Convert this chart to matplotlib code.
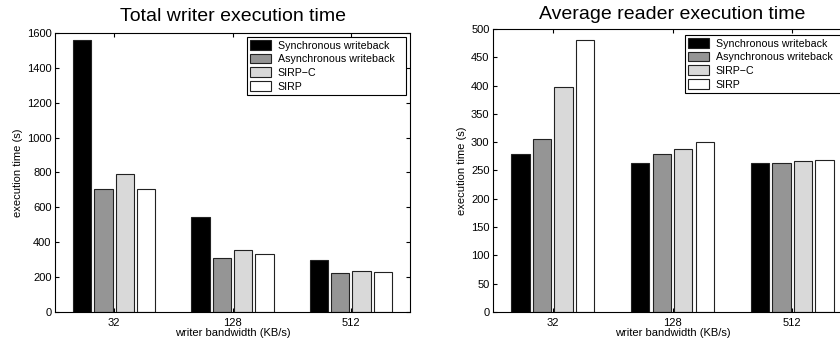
"""
Two grouped bar charts: total writer execution time and average reader
execution time, for four writeback schemes at three writer bandwidths.
"""

import matplotlib

matplotlib.use("Agg")
import matplotlib.pyplot as plt
import numpy as np

plt.rcParams.update(
    {
        "font.family": ["Liberation Sans", "DejaVu Sans"],
        "font.size": 8,
        "axes.linewidth": 0.8,
        "xtick.direction": "in",
        "ytick.direction": "in",
        "xtick.top": True,
        "ytick.right": True,
        "xtick.major.size": 3,
        "ytick.major.size": 3,
    }
)

bandwidths = ["32", "128", "512"]
schemes = ["Synchronous writeback", "Asynchronous writeback", "SIRP\u2212C", "SIRP"]
colors = ["#000000", "#959595", "#d9d9d9", "#ffffff"]

writer_sync = [1558, 542, 298]
writer_async = [705, 312, 223]
writer_sirpc = [790, 358, 236]
writer_sirp = [705, 333, 227]

reader_sync = [280, 264, 263]
reader_async = [306, 280, 264]
reader_sirpc = [397, 288, 266]
reader_sirp = [481, 301, 269]

W, H = 840, 343


def px_axes(fig, left, top, right, bottom):
    return fig.add_axes(
        [left / W, (H - bottom) / H, (right - left) / W, (bottom - top) / H]
    )


def draw(ax, series, title, ylim, yticks, leg_box, title_pad):
    x = np.arange(1, len(bandwidths) + 1)
    step = 0.18
    width = 0.153
    for i, (vals, name, c) in enumerate(zip(series, schemes, colors)):
        ax.bar(
            x + (i - 1.5) * step,
            vals,
            width=width,
            color=c,
            edgecolor="#222222",
            linewidth=0.8,
            label=name,
        )
    ax.set_xlim(0.5, 3.5)
    ax.set_ylim(*ylim)
    ax.set_xticks(x)
    ax.set_xticklabels(bandwidths)
    ax.set_yticks(yticks)
    ax.tick_params(axis="y", labelsize=8, pad=2.5)
    ax.tick_params(axis="x", labelsize=8, pad=4.5)
    ax.set_xlabel("writer bandwidth (KB/s)", fontsize=8, labelpad=0)
    ax.set_ylabel("execution time (s)", fontsize=8, labelpad=3)
    ax.set_title(title, fontsize=14, pad=title_pad)
    leg = ax.legend(
        loc="upper left",
        bbox_to_anchor=leg_box,
        mode="expand",
        fontsize=7.7,
        fancybox=False,
        edgecolor="black",
        framealpha=1,
        borderaxespad=0,
        handlelength=1.9,
        handleheight=1.0,
        labelspacing=0.3,
        handletextpad=0.65,
        borderpad=0.3,
    )
    leg.get_frame().set_linewidth(0.8)


fig = plt.figure(figsize=(W / 100, H / 100), dpi=100)

ax1 = px_axes(fig, 55, 33, 410, 312)
draw(
    ax1,
    [writer_sync, writer_async, writer_sirpc, writer_sirp],
    "Total writer execution time",
    (0, 1600),
    np.arange(0, 1601, 200),
    (0.541, 0.0, 0.448, 0.986),
    8.5,
)

ax2 = px_axes(fig, 493, 29, 852, 312)
draw(
    ax2,
    [reader_sync, reader_async, reader_sirpc, reader_sirp],
    "Average reader execution time",
    (0, 500),
    np.arange(0, 501, 50),
    (0.535, 0.0, 0.443, 0.979),
    7,
)

fig.savefig("out.png", dpi=100)
